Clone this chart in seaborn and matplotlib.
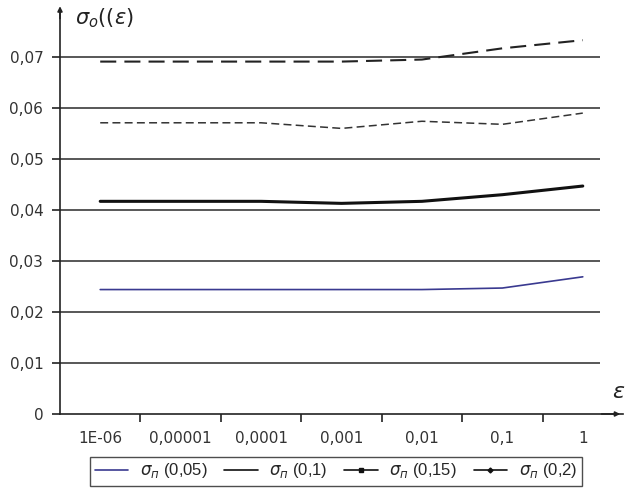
import numpy as np
import pandas as pd
import matplotlib
matplotlib.use("Agg")
import matplotlib.pyplot as plt
from matplotlib.lines import Line2D
import seaborn as sns

# ---- data ----
eps_labels = ["1E-06", "0,00001", "0,0001", "0,001", "0,01", "0,1", "1"]
s_005 = [0.0244, 0.0244, 0.0244, 0.0244, 0.0244, 0.0247, 0.0269]
s_010 = [0.0417, 0.0417, 0.0417, 0.0413, 0.0417, 0.0430, 0.0447]
s_015 = [0.0571, 0.0571, 0.0571, 0.0560, 0.0574, 0.0568, 0.0590]
s_020 = [0.0691, 0.0691, 0.0691, 0.0691, 0.0695, 0.0717, 0.0733]
y_ticks = [0, 0.01, 0.02, 0.03, 0.04, 0.05, 0.06, 0.07]
y_tick_labels = ["0", "0,01", "0,02", "0,03", "0,04", "0,05", "0,06", "0,07"]
legend_labels = [r"$\sigma_{п}$ (0,05)", r"$\sigma_{п}$ (0,1)",
                 r"$\sigma_{п}$ (0,15)", r"$\sigma_{п}$ (0,2)"]

sns.set_theme(style="white")
plt.rcParams["font.family"] = ["Liberation Sans", "DejaVu Sans"]

x = np.arange(len(eps_labels))
df = pd.DataFrame({"x": x, "s005": s_005, "s010": s_010, "s015": s_015, "s020": s_020})

fig = plt.figure(figsize=(6.25, 4.92), dpi=100)
ax = fig.add_axes([60 / 625, 1 - 414 / 492, 563 / 625, 408 / 492])

# gridlines
ax.hlines(y_ticks[1:], -0.5, 6.21, color="#4a4a4a", lw=1.3, zorder=1)

sns.lineplot(data=df, x="x", y="s005", ax=ax, color="#3a3a90", lw=1.2, zorder=3)
sns.lineplot(data=df, x="x", y="s010", ax=ax, color="#111111", lw=2.2, zorder=3)
l3 = sns.lineplot(data=df, x="x", y="s015", ax=ax, color="#333333", lw=1.1, zorder=3)
l3.lines[-1].set_dashes([5.2, 2.8])
l4 = sns.lineplot(data=df, x="x", y="s020", ax=ax, color="#222222", lw=1.5, zorder=3)
l4.lines[-1].set_dashes([7.7, 3.9])

ax.set_xlim(-0.5, 6.5)
ax.set_ylim(0, 0.08)
ax.set_xlabel("")
ax.set_ylabel("")

# spines
for s in ["top", "right"]:
    ax.spines[s].set_visible(False)
for s in ["left", "bottom"]:
    ax.spines[s].set_color("#222222")
    ax.spines[s].set_linewidth(1.2)
ax.spines["left"].set_bounds(0, 0.0795)

# ticks
tick_font = dict(fontsize=11, color="#333333", family=["DejaVu Sans"])
ax.set_yticks(y_ticks)
ax.set_yticklabels(y_tick_labels, **tick_font)
ax.set_xticks(x[:-1] + 0.5)
ax.set_xticklabels([])
ax.set_xticks(x, minor=True)
ax.set_xticklabels(eps_labels, minor=True, **tick_font)
ax.tick_params(axis="x", which="major", direction="out", length=6, width=1.2,
               color="#222222", bottom=True)
ax.tick_params(axis="x", which="minor", length=0, pad=12)
ax.tick_params(axis="y", which="major", direction="out", length=6, width=1.2,
               color="#222222", left=True, pad=6)

# arrows
ax.annotate("", xy=(6.5, 0), xytext=(6.2, 0), xycoords="data",
            arrowprops=dict(arrowstyle="-|>", color="#222222", lw=1.2,
                            mutation_scale=7), annotation_clip=False)
ax.annotate("", xy=(-0.5, 0.0805), xytext=(-0.5, 0.077),
            arrowprops=dict(arrowstyle="-|>", color="#222222", lw=1.2,
                            mutation_scale=7), annotation_clip=False)

# axis labels
fig.text(75 / 625, 1 - 18 / 492, r"$\sigma_o((\varepsilon)$", fontsize=15,
         va="center", ha="left", color="#222222")
fig.text(612 / 625, 1 - 392 / 492, r"$\varepsilon$", fontsize=16,
         va="center", ha="left", color="#222222")

# legend
handles = [
    Line2D([], [], color="#3a3a90", lw=1.2),
    Line2D([], [], color="#111111", lw=1.2),
    Line2D([], [], color="#111111", lw=1.2, marker="s", markersize=3),
    Line2D([], [], color="#111111", lw=1.2, marker="D", markersize=2.5),
]
leg = fig.legend(handles, legend_labels, loc="center",
                 bbox_to_anchor=(336 / 625, 1 - 471 / 492), ncol=4,
                 frameon=True, fontsize=12, handlelength=2.0, handletextpad=0.7,
                 columnspacing=1.0, borderpad=0.3, fancybox=False)
leg.get_frame().set_edgecolor("#222222")
leg.get_frame().set_linewidth(1.0)

fig.savefig("out.png", dpi=100)
